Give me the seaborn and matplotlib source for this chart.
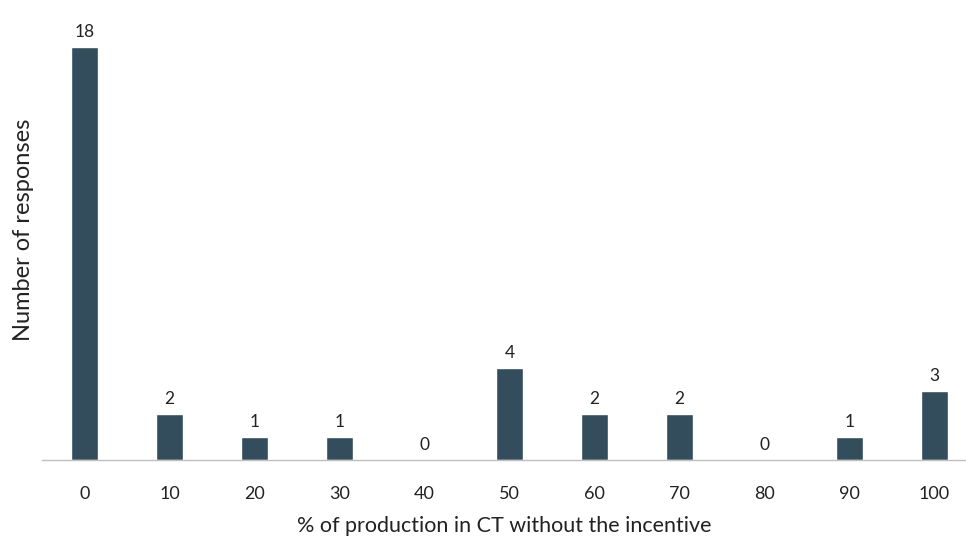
import matplotlib
matplotlib.use("Agg")
import matplotlib.pyplot as plt
import seaborn as sns
import pandas as pd

categories = ["0", "10", "20", "30", "40", "50", "60", "70", "80", "90", "100"]
responses = [18, 2, 1, 1, 0, 4, 2, 2, 0, 1, 3]

sns.set_theme(style="white")
plt.rcParams['font.family'] = ['Lato', 'DejaVu Sans']

df = pd.DataFrame({"cat": categories, "n": responses})

fig = plt.figure(figsize=(9.66, 5.43), dpi=100)
ax = fig.add_axes([42/966, 83/543, 1 - 42/966, 460/543])
sns.barplot(data=df, x="cat", y="n", color="#334D5C", width=0.32, ax=ax, saturation=1)

ax.set_xlim(-0.5, 10.37)
ax.set_ylim(0, 20.05)
for i, v in enumerate(responses):
    ax.text(i, v + 0.3, str(v), ha="center", va="bottom", fontsize=12.5, color="#222222")

for s in ["top", "right", "left"]:
    ax.spines[s].set_visible(False)
ax.spines["bottom"].set_color("#BFBFBF")
ax.spines["bottom"].set_linewidth(1)
ax.set_yticks([])
ax.tick_params(axis="x", length=0, pad=18.5, labelsize=13, labelcolor="#222222")
ax.set_xlabel("% of production in CT without the incentive", fontsize=15.5, color="#222222", labelpad=10)
ax.set_ylabel("Number of responses", fontsize=17, color="#222222", labelpad=6)

fig.savefig("out.png", dpi=100)
